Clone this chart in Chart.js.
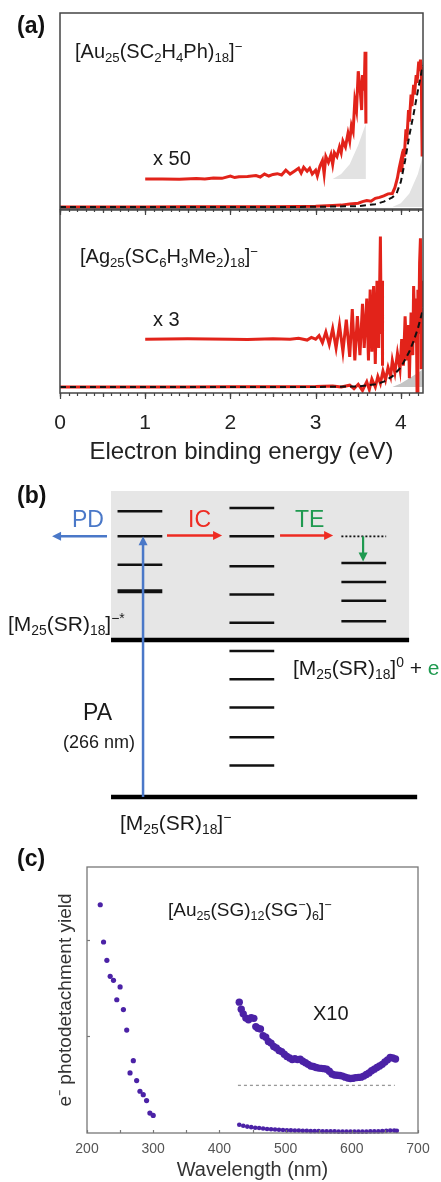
<!DOCTYPE html>
<html>
<head>
<meta charset="utf-8">
<script src="https://cdn.jsdelivr.net/npm/chart.js@4.4.1/dist/chart.umd.min.js"></script>
<style>
html, body { margin: 0; padding: 0; background: #fff; }
body { position: relative; width: 441px; height: 1182px; overflow: hidden; font-family: 'Liberation Sans', Arial, sans-serif; color: #1a1a1a; }
canvas { position: absolute; left: 0; }
.lbl { position: absolute; white-space: nowrap; line-height: 1; }
.lbl sub { font-size: 0.66em; vertical-align: -0.28em; line-height: 0; }
.lbl sup { font-size: 0.66em; vertical-align: 0.55em; line-height: 0; }
</style>
</head>
<body>
<canvas id="auChart" style="top:0px" width="441" height="220"></canvas>
<canvas id="agChart" style="top:209px" width="441" height="258"></canvas>
<canvas id="levelChart" style="top:480px" width="441" height="350"></canvas>
<canvas id="yieldChart" style="top:840px" width="441" height="342"></canvas>
<script>
// ---- (a) photoelectron spectra, x in eV ----
const auMainX = [0, 0.5, 1.0, 1.5, 2.0, 2.5, 2.8, 3.0, 3.2, 3.3, 3.4, 3.5, 3.55, 3.6, 3.65, 3.7, 3.75, 3.8, 3.85, 3.9, 3.93, 3.96, 3.98, 4.0, 4.01, 4.03, 4.04, 4.06, 4.07, 4.09, 4.1, 4.12, 4.13, 4.15, 4.16, 4.18, 4.19, 4.21, 4.22, 4.23, 4.24, 4.245, 4.25];
const auMainY = [0, 0, 0, 0.001, 0.001, 0.002, 0.003, 0.004, 0.008, 0.01, 0.016, 0.02, 0.028, 0.034, 0.03, 0.045, 0.05, 0.058, 0.068, 0.07, 0.1, 0.15, 0.2, 0.24, 0.18, 0.3, 0.26, 0.4, 0.34, 0.5, 0.44, 0.58, 0.52, 0.63, 0.58, 0.68, 0.64, 0.75, 0.7, 0.76, 0.72, 0.45, 0.26];
const auFitX = [0, 3.0, 3.5, 3.7, 3.8, 3.9, 3.95, 4.0, 4.05, 4.1, 4.15, 4.2, 4.24, 4.26];
const auFitY = [0, 0.001, 0.005, 0.015, 0.028, 0.05, 0.07, 0.13, 0.24, 0.37, 0.48, 0.6, 0.69, 0.73];
const auShadeX = [3.9, 4.0, 4.1, 4.2, 4.26];
const auShadeY = [0, 0.02, 0.07, 0.17, 0.27];
const auX50X = [1.0, 1.2, 1.4, 1.6, 1.7, 1.8, 1.9, 2.0, 2.05, 2.1, 2.2, 2.3, 2.35, 2.4, 2.45, 2.5, 2.55, 2.6, 2.65, 2.7, 2.75, 2.8, 2.83, 2.86, 2.9, 2.93, 2.96, 3.0, 3.02, 3.05, 3.08, 3.1, 3.12, 3.15, 3.18, 3.2, 3.22, 3.25, 3.28, 3.3, 3.32, 3.35, 3.38, 3.4, 3.42, 3.44, 3.46, 3.48, 3.5, 3.52, 3.54, 3.55, 3.57, 3.58, 3.59];
const auX50Y = [0.144, 0.145, 0.143, 0.147, 0.145, 0.15, 0.148, 0.16, 0.152, 0.156, 0.158, 0.162, 0.155, 0.17, 0.16, 0.168, 0.172, 0.165, 0.19, 0.17, 0.185, 0.2, 0.175, 0.205, 0.185, 0.2, 0.17, 0.19, 0.16, 0.21, 0.24, 0.17, 0.26, 0.23, 0.27, 0.22, 0.28, 0.26, 0.31, 0.28, 0.34, 0.31, 0.38, 0.34, 0.42, 0.39, 0.55, 0.5, 0.7, 0.62, 0.5, 0.68, 0.6, 0.8, 0.43];
const auX50ShadeX = [3.2, 3.3, 3.4, 3.5, 3.59];
const auX50ShadeY = [0.144, 0.17, 0.22, 0.32, 0.43];
const auX50Base = 0.144;

const agMainX = [0, 0.5, 1.0, 1.5, 2.0, 2.5, 3.0, 3.2, 3.3, 3.4, 3.45, 3.5, 3.55, 3.6, 3.63, 3.66, 3.7, 3.73, 3.76, 3.79, 3.82, 3.85, 3.88, 3.9, 3.93, 3.96, 3.99, 4.01, 4.03, 4.05, 4.07, 4.09, 4.1, 4.12, 4.14, 4.15, 4.17, 4.18, 4.19, 4.2, 4.21, 4.22, 4.23, 4.24, 4.25, 4.26];
const agMainY = [0, 0, 0, 0, 0.001, 0.002, 0.003, 0.006, 0, 0.01, -0.01, 0.015, -0.02, 0.03, -0.015, 0.045, 0, 0.06, 0.02, 0.09, 0.04, 0.11, 0.06, 0.15, 0.08, 0.19, 0.1, 0.27, 0.12, 0.4, 0.15, 0.35, 0.05, 0.42, 0.18, 0.57, 0.25, 0.5, -0.03, 0.55, 0.3, 0.7, 0.84, 0.1, 0.6, 0.45];
const agFitX = [0, 3.0, 3.5, 3.7, 3.8, 3.9, 4.0, 4.1, 4.15, 4.2, 4.26];
const agFitY = [0, 0, 0.003, 0.015, 0.03, 0.06, 0.11, 0.2, 0.26, 0.33, 0.44];
const agShadeX = [3.9, 4.0, 4.1, 4.2, 4.26];
const agShadeY = [0, 0.02, 0.05, 0.08, 0.1];
const agX3X = [1.0, 1.5, 2.0, 2.2, 2.5, 2.7, 2.8, 2.9, 2.95, 3.0, 3.04, 3.08, 3.12, 3.16, 3.2, 3.24, 3.28, 3.32, 3.36, 3.4, 3.43, 3.46, 3.49, 3.52, 3.55, 3.57, 3.6, 3.62, 3.64, 3.66, 3.68, 3.7, 3.72, 3.74, 3.76, 3.77, 3.78, 3.785];
const agX3Y = [0.27, 0.272, 0.27, 0.268, 0.272, 0.27, 0.275, 0.265, 0.28, 0.27, 0.29, 0.25, 0.31, 0.24, 0.33, 0.22, 0.35, 0.2, 0.38, 0.17, 0.44, 0.15, 0.4, 0.18, 0.47, 0.22, 0.5, 0.15, 0.55, 0.2, 0.57, 0.13, 0.6, 0.22, 0.85, 0.3, 0.6, 0.12];
const energyTicks = [0, 1, 2, 3, 4];

// ---- (b) energy level scheme (column 1 = anion*, 2 = mixed, 3 = neutral) ----
const anionLevels = [1.82, 1.66, 1.48, 1.31];
const mixedLevels = [1.84, 1.66, 1.47, 1.29, 1.11, 0.93, 0.75, 0.57, 0.38, 0.20];
const neutralLevels = [1.49, 1.37, 1.25, 1.12];
const neutralVirtual = 1.66;
const thresholdLevel = 1.0;
const groundLevel = 0;

// ---- (c) photodetachment yield vs wavelength ----
const uvX = [220, 225, 230, 235, 240, 245, 250, 255, 260, 265, 270, 275, 280, 285, 290, 295, 300];
const uvY = [85.8, 71.8, 64.9, 58.9, 57.4, 50.1, 54.9, 46.4, 38.7, 22.6, 27.2, 19.7, 15.7, 14.4, 12.2, 7.5, 6.6];
const visX = [430, 433, 436, 440, 444, 448, 452, 455, 458, 462, 466, 470, 474, 478, 482, 486, 490, 494, 498, 502, 506, 510, 514, 518, 522, 526, 530, 534, 538, 542, 546, 550, 554, 558, 562, 566, 570, 574, 578, 582, 586, 590, 594, 598, 602, 606, 610, 614, 618, 622, 626, 630, 634, 638, 642, 646, 650, 654, 658, 662, 666];
const visY = [49.2, 46.5, 44.8, 43.2, 42.6, 43.3, 43.1, 40.0, 39.4, 39.1, 36.6, 36.0, 34.4, 33.8, 32.5, 32.0, 31.0, 30.6, 29.6, 28.8, 28.2, 27.6, 27.9, 27.6, 27.7, 27.0, 26.4, 25.8, 25.2, 25.0, 24.6, 24.4, 24.3, 24.2, 24.0, 23.2, 22.2, 21.8, 21.7, 21.6, 21.4, 21.0, 20.7, 20.5, 20.6, 20.8, 20.9, 21.0, 21.4, 22.0, 22.6, 23.4, 24.0, 24.6, 25.2, 25.8, 26.7, 27.5, 28.4, 28.2, 27.8];
const rawX = [430, 436, 442, 448, 454, 460, 466, 472, 478, 484, 490, 496, 502, 508, 514, 520, 526, 532, 538, 544, 550, 556, 562, 568, 574, 580, 586, 592, 598, 604, 610, 616, 622, 628, 634, 640, 646, 652, 658, 664, 668];
const rawY = [3.1, 2.7, 2.4, 2.2, 2.0, 1.9, 1.7, 1.5, 1.4, 1.3, 1.2, 1.1, 1.0, 1.0, 0.9, 0.9, 0.8, 0.8, 0.7, 0.7, 0.7, 0.6, 0.6, 0.6, 0.6, 0.5, 0.5, 0.5, 0.5, 0.5, 0.5, 0.5, 0.5, 0.6, 0.6, 0.6, 0.7, 0.8, 0.9, 0.9, 0.8];
const x10BaseX = [428, 665];
const x10BaseY = [17.9, 17.9];
const yieldTicks = [36.35, 72.7];

const RED = '#e2231a', PURPLE = '#4b22a6', BLUE = '#4a78c8', GREEN = '#1f9a50';

Chart.defaults.font.family = "'Liberation Sans', Arial, sans-serif";
Chart.defaults.color = '#1a1a1a';
Chart.defaults.animation = false;
Chart.defaults.plugins.legend.display = false;
Chart.defaults.plugins.tooltip.enabled = false;

const pts = (xs, ys) => xs.map((x, i) => ({ x: x, y: ys[i] }));

// frame, tick marks, shaded box and arrows
const decor = {
  id: 'decor',
  beforeDatasetsDraw(chart, args, o) {
    if (!o.box) return;
    const { x, y } = chart.scales, ctx = chart.ctx, b = o.box;
    const x0 = x.getPixelForValue(b.x0), x1 = x.getPixelForValue(b.x1);
    const y0 = y.getPixelForValue(b.y0), y1 = y.getPixelForValue(b.y1);
    ctx.save();
    ctx.fillStyle = b.color;
    ctx.fillRect(x0, y1, x1 - x0, y0 - y1);
    ctx.restore();
  },
  afterDatasetsDraw(chart, args, o) {
    if (!o.arrows) return;
    const { x, y } = chart.scales, ctx = chart.ctx;
    o.arrows.forEach(a => {
      const px0 = x.getPixelForValue(a.from[0]), py0 = y.getPixelForValue(a.from[1]);
      const px1 = x.getPixelForValue(a.to[0]), py1 = y.getPixelForValue(a.to[1]);
      const ang = Math.atan2(py1 - py0, px1 - px0);
      const hl = 9, hw = 4.5;
      ctx.save();
      ctx.strokeStyle = a.color; ctx.fillStyle = a.color; ctx.lineWidth = a.width || 2.5;
      ctx.beginPath();
      ctx.moveTo(px0, py0);
      ctx.lineTo(px1 - Math.cos(ang) * hl * 0.8, py1 - Math.sin(ang) * hl * 0.8);
      ctx.stroke();
      ctx.beginPath();
      ctx.moveTo(px1, py1);
      ctx.lineTo(px1 - Math.cos(ang) * hl + Math.sin(ang) * hw, py1 - Math.sin(ang) * hl - Math.cos(ang) * hw);
      ctx.lineTo(px1 - Math.cos(ang) * hl - Math.sin(ang) * hw, py1 - Math.sin(ang) * hl + Math.cos(ang) * hw);
      ctx.closePath();
      ctx.fill();
      ctx.restore();
    });
  },
  afterDraw(chart, args, o) {
    const ctx = chart.ctx, ca = chart.chartArea, { x, y } = chart.scales;
    ctx.save();
    if (o.frame) {
      ctx.strokeStyle = o.frame.color; ctx.lineWidth = o.frame.width;
      ctx.strokeRect(ca.left, ca.top, ca.right - ca.left, ca.bottom - ca.top);
    }
    if (o.xTicks) {
      ctx.strokeStyle = o.tickColor; ctx.lineWidth = 1.2;
      o.xTicks.forEach(t => {
        const start = Math.ceil(x.min / t.step - 1e-9);
        const end = Math.floor(x.max / t.step + 1e-9);
        for (let i = start; i <= end; i++) {
          const px = Math.round(x.getPixelForValue(i * t.step)) + 0.5;
          ctx.beginPath();
          ctx.moveTo(px, ca.bottom);
          ctx.lineTo(px, ca.bottom + o.tickDir * t.len);
          ctx.stroke();
        }
      });
    }
    if (o.yTicks) {
      ctx.strokeStyle = o.tickColor; ctx.lineWidth = 1.2;
      o.yTicks.forEach(v => {
        const py = Math.round(y.getPixelForValue(v)) + 0.5;
        ctx.beginPath();
        ctx.moveTo(ca.left, py);
        ctx.lineTo(ca.left + o.yTickLen, py);
        ctx.stroke();
      });
    }
    ctx.restore();
  }
};

const energyTickSpec = [{ step: 0.1, len: 3 }, { step: 0.5, len: 4 }, { step: 1, len: 6 }];

function spectrumSets(main, fit, shade, scaled, scaledShade, scaledBase, shadeColor) {
  const sets = [
    { data: pts(shade[0], shade[1]), borderWidth: 0, pointRadius: 0, fill: 'origin', backgroundColor: shadeColor, order: 4 },
    { data: pts(main[0], main[1]), borderColor: RED, borderWidth: 3, pointRadius: 0, fill: false, order: 2 },
    { data: pts(fit[0], fit[1]), borderColor: '#111', borderWidth: 2, borderDash: [6, 4], pointRadius: 0, fill: false, order: 1 },
    { data: pts(scaled[0], scaled[1]), borderColor: RED, borderWidth: 3, pointRadius: 0, fill: false, order: 2 }
  ];
  if (scaledShade) {
    sets.push({ data: pts(scaledShade[0], scaledShade[1]), borderWidth: 0, pointRadius: 0, fill: { value: scaledBase }, backgroundColor: shadeColor, order: 4 });
  }
  return sets;
}

new Chart(document.getElementById('auChart'), {
  type: 'line',
  data: { datasets: spectrumSets([auMainX, auMainY], [auFitX, auFitY], [auShadeX, auShadeY], [auX50X, auX50Y], [auX50ShadeX, auX50ShadeY], auX50Base, '#e2e2e2') },
  options: {
    responsive: false,
    layout: { padding: { left: 60, right: 18, top: 13, bottom: 11 } },
    scales: {
      x: { type: 'linear', min: 0, max: 4.26, display: false },
      y: { min: -0.01, max: 1, display: false }
    },
    plugins: { decor: { frame: { color: '#444', width: 1.5 }, xTicks: energyTickSpec, tickDir: 1, tickColor: '#444' } }
  },
  plugins: [decor]
});

new Chart(document.getElementById('agChart'), {
  type: 'line',
  data: { datasets: spectrumSets([agMainX, agMainY], [agFitX, agFitY], [agShadeX, agShadeY], [agX3X, agX3Y], null, 0, '#c4c4c4') },
  options: {
    responsive: false,
    layout: { padding: { left: 60, right: 18, top: 1, bottom: 0 } },
    scales: {
      x: {
        type: 'linear', min: 0, max: 4.26,
        afterBuildTicks: s => { s.ticks = energyTicks.map(v => ({ value: v })); },
        afterFit: s => { s.height = 74; },
        grid: { display: false }, border: { display: false },
        ticks: { padding: 10, font: { size: 21 }, color: '#222' },
        title: { display: true, text: 'Electron binding energy (eV)', font: { size: 24 }, color: '#222', padding: 0 }
      },
      y: { min: -0.034, max: 1, display: false }
    },
    plugins: { decor: { frame: { color: '#444', width: 1.5 }, xTicks: energyTickSpec, tickDir: 1, tickColor: '#444' } }
  },
  plugins: [decor]
});

// ---- (b) ----
const levelSet = (col, e, width, dash) => ({
  data: [{ x: col - 0.2, y: e }, { x: col + 0.2, y: e }],
  showLine: true, borderColor: '#111', borderWidth: width, borderDash: dash || [], pointRadius: 0
});
const levelSets = [
  ...anionLevels.map((e, i) => levelSet(1, e, i === anionLevels.length - 1 ? 4 : 2.5)),
  ...mixedLevels.map(e => levelSet(2, e, 2.5)),
  ...neutralLevels.map(e => levelSet(3, e, 2.5)),
  levelSet(3, neutralVirtual, 1.8, [2, 2]),
  { data: [{ x: 0.742, y: thresholdLevel }, { x: 3.405, y: thresholdLevel }], showLine: true, borderColor: '#000', borderWidth: 4.5, pointRadius: 0 },
  { data: [{ x: 0.742, y: groundLevel }, { x: 3.477, y: groundLevel }], showLine: true, borderColor: '#000', borderWidth: 4.5, pointRadius: 0 }
];

new Chart(document.getElementById('levelChart'), {
  type: 'scatter',
  data: { datasets: levelSets },
  options: {
    responsive: false,
    layout: { padding: 0 },
    scales: {
      x: { type: 'linear', min: -0.25, max: 3.69, display: false },
      y: { min: -0.21, max: 2.019, display: false }
    },
    plugins: {
      decor: {
        box: { x0: 0.742, x1: 3.405, y0: thresholdLevel, y1: 1.949, color: '#e6e6e6' },
        arrows: [
          { from: [1.028, groundLevel], to: [1.028, 1.66], color: BLUE, width: 2.5 },
          { from: [0.706, 1.66], to: [0.215, 1.66], color: BLUE, width: 2.5 },
          { from: [1.242, 1.665], to: [1.734, 1.665], color: '#ee2b22', width: 2.5 },
          { from: [2.252, 1.665], to: [2.726, 1.665], color: '#ee2b22', width: 2.5 },
          { from: [2.994, 1.66], to: [2.994, 1.5], color: GREEN, width: 2.2 }
        ]
      }
    }
  },
  plugins: [decor]
});

// ---- (c) ----
new Chart(document.getElementById('yieldChart'), {
  type: 'scatter',
  data: {
    datasets: [
      { data: pts(x10BaseX, x10BaseY), showLine: true, borderColor: '#999', borderWidth: 1.3, borderDash: [3, 3], pointRadius: 0 },
      { data: pts(uvX, uvY), backgroundColor: PURPLE, borderWidth: 0, pointRadius: 2.6, clip: false },
      { data: pts(visX, visY), backgroundColor: PURPLE, borderWidth: 0, pointRadius: 3.7, clip: false },
      { data: pts(rawX, rawY), backgroundColor: PURPLE, borderWidth: 0, pointRadius: 2.3, clip: false }
    ]
  },
  options: {
    responsive: false,
    layout: { padding: { left: 0, right: 23, top: 27, bottom: 0 } },
    scales: {
      x: {
        type: 'linear', min: 200, max: 700,
        ticks: { stepSize: 100, padding: 0, font: { size: 14 }, color: '#555' },
        afterFit: s => { s.height = 49; },
        grid: { display: false }, border: { display: false },
        title: { display: true, text: 'Wavelength (nm)', font: { size: 20 }, color: '#333', padding: 0 }
      },
      y: {
        min: 0, max: 100,
        ticks: { display: false },
        afterFit: s => { s.width = 87; },
        grid: { display: false }, border: { display: false },
        title: { display: true, text: 'e⁻ photodetachment yield', font: { size: 19 }, color: '#333', padding: { top: 54, bottom: 0 } }
      }
    },
    plugins: { decor: { frame: { color: '#777', width: 1.3 }, xTicks: [{ step: 50, len: 3 }], tickDir: -1, tickColor: '#777', yTicks: yieldTicks, yTickLen: 3 } }
  },
  plugins: [decor]
});

// ---- text labels ----
function label(html, x, y, size, color, bold) {
  const d = document.createElement('div');
  d.className = 'lbl';
  d.innerHTML = html;
  d.style.left = x + 'px';
  d.style.top = (y - size * 0.5) + 'px';
  d.style.fontSize = size + 'px';
  d.style.color = color || '#1a1a1a';
  if (bold) d.style.fontWeight = 'bold';
  document.body.appendChild(d);
}
const M = 'M<sub>25</sub>(SR)<sub>18</sub>';
label('(a)', 17, 25, 23, '#111', true);
label('[Au<sub>25</sub>(SC<sub>2</sub>H<sub>4</sub>Ph)<sub>18</sub>]<sup>−</sup>', 75, 51, 20);
label('x 50', 153, 158, 20);
label('[Ag<sub>25</sub>(SC<sub>6</sub>H<sub>3</sub>Me<sub>2</sub>)<sub>18</sub>]<sup>−</sup>', 80, 256, 20);
label('x 3', 153, 319, 20);
label('(b)', 17, 495, 23, '#111', true);
label('PD', 72, 519, 23, BLUE);
label('IC', 188, 519, 23, '#ee2b22');
label('TE', 295, 519, 23, GREEN);
label('[' + M + ']<sup>−*</sup>', 8, 623, 21);
label('[' + M + ']<sup>0</sup> + <span style="color:' + GREEN + '">e</span>', 293, 667, 21);
label('PA', 83, 712, 23);
label('(266 nm)', 63, 742, 18);
label('[' + M + ']<sup>−</sup>', 120, 822, 21);
label('(c)', 17, 858, 23, '#111', true);
label('[Au<sub>25</sub>(SG)<sub>12</sub>(SG<sup>−</sup>)<sub>6</sub>]<sup>−</sup>', 168, 909, 19);
label('X10', 313, 1013, 20);
</script>
</body>
</html>
